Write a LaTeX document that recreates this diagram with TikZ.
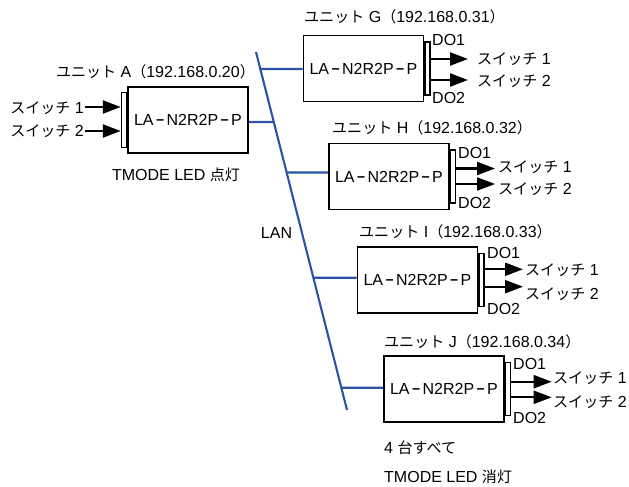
\documentclass[tikz,border=0pt]{standalone}
\usepackage{fontspec}
\usepackage{graphicx}
\setmainfont{Liberation Sans}
\newfontfamily\jp[Scale=0.94]{Noto Sans CJK JP}
\usetikzlibrary{calc,arrows.meta}
\definecolor{lanblue}{RGB}{42,82,168}
\newcommand\hy{\makebox[13pt]{\scalebox{1.8}[1.2]{-}}}
\newcommand\modelname{LA\hy N2R2P\hy P}
\newcommand\sw[1]{{\jp スイッチ} #1}
\newcommand\unitname[2]{{\jp ユニット} #1{\jp （}#2{\jp ）}}
\tikzset{
  unitbox/.style={draw, line width=1.7pt, fill=white, minimum width=120pt, minimum height=66pt, inner sep=0pt},
  stripbox/.style={draw, line width=1.4pt, fill=white, minimum width=5pt, minimum height=53pt, inner sep=0pt},
  lbl/.style={inner sep=0pt},
  lan/.style={draw=lanblue, line width=2.1pt},
  sig/.style={line width=2.3pt, -{Triangle[length=18pt,width=13pt]}}
}
\begin{document}
\begin{tikzpicture}[x=1pt,y=-1pt,font=\fontsize{16}{19}\selectfont]
\useasboundingbox (0,0) rectangle (629,487);
% LAN backbone
\coordinate (lt) at (256,52);
\coordinate (lb) at (347,410);
\draw[lan] (lt) -- (lb);
\node[lbl] (lanl) at (276.5,233) {LAN};

% ---------- Unit A ----------
\node[unitbox] (A) at (188,120) {\modelname};
\node[stripbox, anchor=east, minimum height=55pt] (As) at (A.west) {};
\node[lbl, anchor=east] (At) at (255,72) {\unitname{A}{192.168.0.20}};
\node[lbl, anchor=east] (Asw1) at (84,108) {\sw{1}};
\node[lbl, anchor=east] (Asw2) at (84,131.5) {\sw{2}};
\coordinate (A1) at (85,107);
\coordinate (A2) at (85,131);
\draw[sig] (A1) -- (As.west |- A1);
\draw[sig] (A2) -- (As.west |- A2);
\node[lbl] (Al) at (176,175) {TMODE LED {\jp 点灯}};
\coordinate (Ac) at ($(A.east)+(0,2)$);
\coordinate (Ax) at ($(Ac)+(10,0)$);
\coordinate (Aj) at (intersection of lt--lb and Ac--Ax);
\draw[lan] (Ac) -- (Aj);

% ---------- Unit G ----------
\node[unitbox] (G) at (363.5,68.5) {\modelname};
\node[stripbox, anchor=west] (Gs) at (G.east) {};
\node[lbl, anchor=west] (Gt) at (304,17) {\unitname{G}{192.168.0.31}};
\node[lbl, anchor=west] (Gd1) at (432,40) {DO1};
\node[lbl, anchor=west] (Gd2) at (432,98) {DO2};
\coordinate (G1) at (468,59);
\coordinate (G2) at (468,80);
\draw[sig] (Gs.east |- G1) -- (G1);
\draw[sig] (Gs.east |- G2) -- (G2);
\node[lbl, anchor=west] (Gsw1) at (477,59.5) {\sw{1}};
\node[lbl, anchor=west] (Gsw2) at (477,81.5) {\sw{2}};
\coordinate (Gc) at ($(G.west)+(0,0.5)$);
\coordinate (Gx) at ($(Gc)+(-10,0)$);
\coordinate (Gj) at (intersection of lt--lb and Gc--Gx);
\draw[lan] (Gj) -- (Gc);

% ---------- Unit H ----------
\node[unitbox] (H) at (389,176.5) {\modelname};
\node[stripbox, anchor=west] (Hs) at (H.east) {};
\node[lbl, anchor=west] (Ht) at (332,128) {\unitname{H}{192.168.0.32}};
\node[lbl, anchor=west] (Hd1) at (458,153) {DO1};
\node[lbl, anchor=west] (Hd2) at (458,203) {DO2};
\coordinate (H1) at (495,168.5);
\coordinate (H2) at (495,184);
\draw[sig] (Hs.east |- H1) -- (H1);
\draw[sig] (Hs.east |- H2) -- (H2);
\node[lbl, anchor=west] (Hsw1) at (498,167) {\sw{1}};
\node[lbl, anchor=west] (Hsw2) at (498,189) {\sw{2}};
\coordinate (Hc) at ($(H.west)+(0,-4)$);
\coordinate (Hx) at ($(Hc)+(-10,0)$);
\coordinate (Hj) at (intersection of lt--lb and Hc--Hx);
\draw[lan] (Hj) -- (Hc);

% ---------- Unit I ----------
\node[unitbox] (I) at (417.5,280) {\modelname};
\node[stripbox, anchor=west] (Is) at (I.east) {};
\node[lbl, anchor=west] (It) at (359,232) {\unitname{I}{192.168.0.33}};
\node[lbl, anchor=west] (Id1) at (487,253) {DO1};
\node[lbl, anchor=west] (Id2) at (487,309) {DO2};
\coordinate (I1) at (523,269.3);
\coordinate (I2) at (523,286.7);
\draw[sig] (Is.east |- I1) -- (I1);
\draw[sig] (Is.east |- I2) -- (I2);
\node[lbl, anchor=west] (Isw1) at (525,270) {\sw{1}};
\node[lbl, anchor=west] (Isw2) at (525,294) {\sw{2}};
\coordinate (Ic) at ($(I.west)+(0,-2.3)$);
\coordinate (Ix) at ($(Ic)+(-10,0)$);
\coordinate (Ij) at (intersection of lt--lb and Ic--Ix);
\draw[lan] (Ij) -- (Ic);

% ---------- Unit J ----------
\node[unitbox] (J) at (444,389) {\modelname};
\node[stripbox, anchor=west] (Js) at (J.east) {};
\node[lbl, anchor=west] (Jt) at (384,341.7) {\unitname{J}{192.168.0.34}};
\node[lbl, anchor=west] (Jd1) at (513,364) {DO1};
\node[lbl, anchor=west] (Jd2) at (513,418) {DO2};
\coordinate (J1) at (551.7,381.7);
\coordinate (J2) at (551.7,397.3);
\draw[sig] (Js.east |- J1) -- (J1);
\draw[sig] (Js.east |- J2) -- (J2);
\node[lbl, anchor=west] (Jsw1) at (553,378) {\sw{1}};
\node[lbl, anchor=west] (Jsw2) at (553,401.7) {\sw{2}};
\coordinate (Jc) at ($(J.west)+(0,-1.3)$);
\coordinate (Jx) at ($(Jc)+(-10,0)$);
\coordinate (Jj) at (intersection of lt--lb and Jc--Jx);
\draw[lan] (Jj) -- (Jc);
\node[lbl, anchor=west] (Jn1) at (384,448) {4 {\jp 台すべて}};
\node[lbl, anchor=west] (Jn2) at (384,476.7) {TMODE LED {\jp 消灯}};
\end{tikzpicture}
\end{document}
